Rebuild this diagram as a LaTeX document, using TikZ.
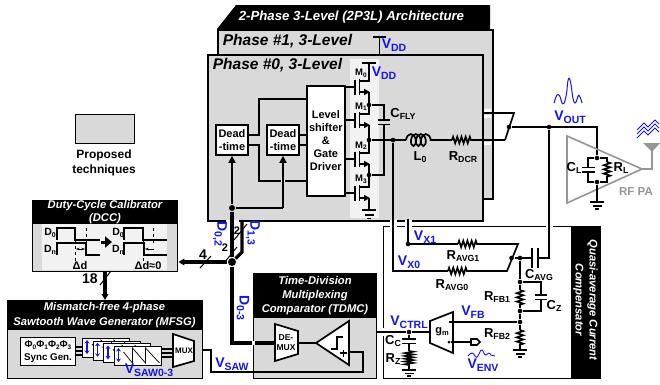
\documentclass[tikz,border=0pt]{standalone}
\usepackage{fontspec}
\setmainfont{Liberation Sans}
\usetikzlibrary{decorations.pathmorphing,arrows.meta}
\definecolor{vblue}{RGB}{20,20,235}
\definecolor{boxgray}{RGB}{217,217,217}
\definecolor{panel}{RGB}{242,242,242}
\definecolor{pagray}{RGB}{150,150,150}
\newcommand{\fs}[1]{\fontsize{#1}{#1}\selectfont}
\newcommand{\vsub}[2]{\fs{14}#1\raisebox{-.35ex}{\fs{10.5}#2}}
\newcommand{\csub}[2]{\fs{13}#1\raisebox{-.35ex}{\fs{8.8}#2}}
\begin{document}
\begin{tikzpicture}[x=1pt,y=-1pt,line width=1.7pt,line join=miter,
  every node/.style={font=\bfseries\fs{11},inner sep=0pt,align=center},
  dot/.style={circle,fill=black,inner sep=0,minimum size=4.6pt},
  bigdot/.style={circle,fill=black,inner sep=0,minimum size=8pt},
  graybox/.style={draw,fill=boxgray},
  wbox/.style={draw,fill=white},
  vlab/.style={text=vblue},
  head/.style={text=white,font=\bfseries\itshape\fs{11.2}},
  res/.style={decorate,decoration={zigzag,segment length=4.2pt,amplitude=3.2pt}},
  bus/.style={line width=3.2pt},
  tip/.style={-{Triangle[length=7pt,width=7pt]}},
  bustip/.style={-{Triangle[length=6pt,width=6.5pt]}},
  halo/.style={white,line width=1.8pt}]
\useasboundingbox (0,0) rectangle (660,384);
% phase boxes
\fill (217,29) -- (236,5) -- (490,5) -- (490,29) -- cycle;
\node[text=white,font=\bfseries\itshape\fs{13.2},anchor=west] (title) at (238,17) {2-Phase 3-Level (2P3L) Architecture};
\node[graybox,anchor=north west,minimum width=275,minimum height=169] (ph1) at (217,29) {};
\node[font=\bfseries\itshape\fs{15.5},anchor=west] (ph1t) at (222,41) {Phase \#1, 3-Level};
\node[graybox,anchor=north west,minimum width=275,minimum height=166] (ph0) at (207,54) {};
\fill[panel] (350,59) rectangle (379,218);
\node[font=\bfseries\itshape\fs{15.5},anchor=west] (ph0t) at (212,65) {Phase \#0, 3-Level};
% supply of phase 1
\draw (373,37) -- (386,37);
\draw (379.5,37) -- (379.5,54);
\node[vlab] (vdd1) at (394,45) {\vsub{V}{DD}};
% proposed
\node[graybox,line width=1pt,anchor=north west,minimum width=59,minimum height=29] (legend) at (75,114) {};
\node[font=\bfseries\fs{12}] (legendt) at (104,163) {Proposed\\[3pt]techniques};
% driver
\node[wbox,anchor=north west,minimum width=38,minimum height=110] (ls) at (306,85) {Level\\[2pt]shifter\\[2pt]\&\\[2pt]Gate\\[2pt]Driver};
\foreach \name/\x in {dt1/232,dt2/283}{
 \node[wbox,minimum width=32,minimum height=30] (\name) at (\x,140) {Dead\\[2pt]-time};}
\draw (ls.west |- 0,99) -- (259,99) -- (259,135) -- (dt1.east |- 0,135);
\draw (dt1.east |- 0,145) -- (259,145) -- (259,181) -- (ls.west |- 0,181);
\draw[halo] (281,181) -- (285,181);
\foreach \y in {135,145}{\draw (dt2.east |- 0,\y) -- (ls.west |- 0,\y);}
% switches
\foreach \name/\y/\ytop/\ybot/\idx in {m0/87/63/105/0,m1/120/105/140/1,m2/159/140/175/2,m3/193/175/210/3}{
 \draw (ls.east |- 0,\y) -- (355,\y);
 \draw (355,\y-7.5) -- (355,\y+7.5);
 \draw (359.5,\y-8) -- (359.5,\y+8);
 \draw (359.5,\y-6) -- (369,\y-6) -- (369,\ytop);
 \draw (369,\y+5) -- (369,\ybot);
 \draw[-{Triangle[length=6pt,width=6pt]}] (359.5,\y+5) -- (370,\y+5);
 \node[font=\bfseries\fs{9.5}] (\name) at (361,\y-13.5) {M\raisebox{-.3ex}{\fs{6.5}\idx}};}
\draw (362,63) -- (376,63);
\node[vlab] (vdd0) at (384,73) {\vsub{V}{DD}};
\foreach \w/\y in {7/210,4.5/215,2/218.5}{\draw (369-\w,\y) -- (369+\w,\y);}
\node[dot] (n1) at (369,105) {};
\node[dot] (n2) at (369,140) {};
\node[dot] (n3) at (369,175) {};
\coordinate (capa) at (384,120);
\coordinate (capb) at (384,124.5);
\draw (n1) -- (384,105) -- (capa);
\draw (capb) -- (384,175) -- (n3);
\draw (378,120) -- (390,120) (378,124.5) -- (390,124.5);
\node (cfly) at (403,114) {\csub{C}{FLY}};
% output filter
\node[dot] (lx) at (393,140) {};
\draw (n2) -- (406,140);
\draw[decorate,decoration={coil,segment length=5pt,amplitude=6pt,aspect=.6}] (406,140) -- (432,140);
\draw (432,140) -- (452,140);
\draw[res] (452,140) -- (472,140);
\draw (472,140) -- (505,140);
\draw (482,113) -- (514,113) -- (505,140);
\foreach \y in {113,140}{\draw[white,line width=3.5pt] (484,\y+3.5) -- (491,\y+3.5);}
\draw[halo,line width=3pt] (483.5,110.5) -- (491,110.5);
\node (l0) at (420,157) {\csub{L}{0}};
\node (rdcr) at (463,157) {\csub{R}{DCR}};
\node[dot] (swo) at (509,127) {};
\node[dot] (vo) at (549,127) {};
\node[dot] (cltop) at (597,158) {};
\node[dot] (clbot) at (597,182) {};
\draw (swo) -- (597,127) -- (cltop);
% rf pa
\draw[pagray,line width=1.6pt] (567,136) -- (642,169) -- (567,203) -- cycle;
\draw[pagray,line width=1.6pt] (642,169) -- (652,169) -- (652,147);
\fill[pagray] (643,143) -- (660,143) -- (652,152) -- cycle;
\node[text=pagray,font=\bfseries\fs{11.5}] (rfpa) at (636,192) {RF PA};
\draw[vblue,line width=.9pt] (637,138) -- (644,131) -- (648,135) -- (655,128) -- (659,132) (637,134) -- (644,127) -- (648,131) -- (655,124) -- (659,128) (637,130) -- (644,123) -- (648,127) -- (655,120) -- (659,124);
\draw (cltop) -- (588,158) -- (588,167.5) (588,172) -- (588,182) -- (clbot);
\draw (582,167.5) -- (595,167.5) (582,172) -- (595,172);
\draw (cltop) -- (607,158) -- (607,162);
\draw[res] (607,162) -- (607,178);
\draw (607,178) -- (607,182) -- (clbot);
\draw (clbot) -- (597,202);
\foreach \w/\y in {7/202,4.5/206,2/209}{\draw (597-\w,\y) -- (597+\w,\y);}
\node (cl) at (574,168) {\csub{C}{L}};
\node (rl) at (621,168) {\csub{R}{L}};
\node[vlab] (vout) at (570,117) {\vsub{V}{OUT}};
\draw[vblue,line width=1pt] (554,103) .. controls (557,92) and (559,92) .. (561,100) .. controls (563,108) and (565,104) .. (567,90) .. controls (568,74) and (570,74) .. (572,92) .. controls (574,108) and (576,104) .. (578,96) .. controls (579,93) and (581,99) .. (582,103);
% compensator
\node[draw,line width=1.4pt,anchor=north west,minimum width=217,minimum height=152] (comp) at (383,226) {};
\fill (571,226) rectangle (600,378);
\node[head,rotate=-90] (compt) at (585.5,300) {Quasi-average Current\\[3pt]Compensator};
\foreach \x in {393,408,549}{\fill[white] (\x-3.5,219.8) rectangle (\x+3.5,228);}
\fill[white] (376,328) rectangle (386,336);
\node[dot] (x1) at (408,244) {};
\draw (lx) -- (393,271) -- (448,271);
\draw[res] (448,271) -- (468,271);
\draw (468,271) -- (507,271) -- (518,244) -- (478,244);
\draw[res] (458,244) -- (478,244);
\draw (408,219) -- (408,244) -- (458,244);
\node[dot] (sw2) at (511.5,258) {};
\node[dot] (ct) at (520,258) {};
\draw (sw2) -- (532,258);
\draw (532,248) -- (532,268) (538,248) -- (538,268);
\draw (538,258) -- (549,258) -- (vo);
\node[vlab] (vx1) at (425,237) {\vsub{V}{X1}};
\node[vlab] (vx0) at (409,262) {\vsub{V}{X0}};
\node (ravg1) at (463,256) {\csub{R}{AVG1}};
\node (ravg0) at (452,285) {\csub{R}{AVG0}};
\node (cavg) at (539,275) {\csub{C}{AVG}};
\node[dot] (fb1) at (520,282) {};
\node[dot] (fb2) at (520,311) {};
\node[dot] (fb3) at (520,322) {};
\draw (ct) -- (fb1) -- (520,290);
\draw[res] (520,290) -- (520,305);
\draw (520,305) -- (fb2) -- (fb3) -- (520,330);
\draw[res] (520,330) -- (520,345);
\draw (520,345) -- (520,350);
\foreach \w/\y in {7/350,4.5/354,2/357}{\draw (520-\w,\y) -- (520+\w,\y);}
\draw (fb1) -- (541,282) -- (541,295) (541,299.5) -- (541,311) -- (fb2);
\draw (535,295) -- (547,295) (535,299.5) -- (547,299.5);
\node (rfb1) at (497,297) {\csub{R}{FB1}};
\node (rfb2) at (497,334) {\csub{R}{FB2}};
\node (cz) at (554,306) {\csub{C}{Z}};
% gm stage
\draw[fill=white] (430,321) -- (453,312) -- (453,353) -- (430,343) -- cycle;
\node (gm) at (442,332) {g\raisebox{-.3ex}{\fs{7.5}m}};
\node[dot,minimum size=3pt] (gmp) at (449,342) {};
\coordinate (gmn) at (449,322);
\draw (gmn) -- (fb3);
\draw (gmp) -- (471,342);
\draw (471,339) -- (477,339) -- (480,342) -- (477,345) -- (471,345) -- cycle;
\node[vlab] (vfb) at (473,312) {\vsub{V}{FB}};
\node[vlab] (venv) at (483,365) {\vsub{V}{ENV}};
\draw[vblue,line width=.9pt] (468,356) .. controls (471,352) and (473,352) .. (475,356) .. controls (477,360) and (478,355) .. (481,350) .. controls (483,348) and (484,356) .. (486,355) .. controls (488,353) and (489,352) .. (491,355) -- (495,356);
\node[dot] (vc) at (409,332) {};
\draw (430,332) -- (vc) -- (342,332);
\draw (vc) -- (409,339);
\draw (402,339) -- (416,339) (402,343.5) -- (416,343.5);
\draw (409,343.5) -- (409,351);
\draw[res,decoration={segment length=2.8pt,amplitude=4pt}] (409,351) -- (409,366);
\draw (409,366) -- (409,370);
\foreach \w/\y in {7/370,4.5/373.5,2/376}{\draw (409-\w,\y) -- (409+\w,\y);}
\node[vlab] (vctrl) at (409,322) {\vsub{V}{CTRL}};
\node (cc) at (393,341) {\csub{C}{C}};
\node (rz) at (393,359) {\csub{R}{Z}};
% tdmc
\node[graybox,anchor=north west,minimum width=123,minimum height=105,line width=1pt] (tdmc) at (253,273) {};
\fill (253,273) rectangle (376,318);
\node[head] (tdmct) at (315,295.5) {Time-Division\\[3pt]Multiplexing\\[3pt]Comparator (TDMC)};
\draw[fill=white] (275,324) -- (298,331) -- (298,354) -- (275,361) -- cycle;
\node[font=\bfseries\fs{8.5}] (demux) at (286,343) {DE-\\[1.5pt]MUX};
\draw[fill=white] (316,343) -- (349,321) -- (349,365) -- cycle;
\draw (298,343) -- (316,343);
\draw[line width=1.3pt] (331,349) -- (337,349) -- (337,337) -- (343,337);
\draw (340,353) -- (347,353) (343.5,349.5) -- (343.5,356.5);
\draw (349,352) -- (363,352) -- (363,372) -- (211,372) -- (211,350) -- (193,350);
\node[vlab] (vsaw) at (232,364) {\vsub{V}{SAW}};
% digital bus
\node[bigdot] (jn) at (232,262) {};
\node[dot,minimum size=6pt] (dn) at (232,208) {};
\draw[tip] (dn) -- (dt1.south);
\draw[tip] (283,208) -- (dt2.south);
\draw (dn) -- (283,208);
\fill[white] (226,219.8) rectangle (239,224);
\draw[bus] (dn) -- (jn);
\draw[bus] (242,220) -- (242,252) -- (jn);
\draw[line width=1pt] (234,240) -- (247,224);
\draw[line width=1pt] (224,263) -- (237,247);
\node[font=\bfseries\fs{11}] (two1) at (237,231) {2};
\node[font=\bfseries\fs{11}] (two2) at (225,248) {2};
\node[vlab,rotate=-90] (d02) at (220,234) {\vsub{D}{0,2}};
\node[vlab,rotate=-90] (d13) at (253,233) {\vsub{D}{1,3}};
\node[vlab,rotate=-90] (d03) at (243,308) {\vsub{D}{0-3}};
% dcc
\node[draw,fill=boxgray,anchor=north west,minimum width=145,minimum height=71,line width=1.4pt] (dcc) at (32,200) {};
\fill[panel] (42,224) rectangle (167,270);
\fill (32,200) rectangle (177,224);
\node[head] (dcct) at (105,212) {Duty-Cycle Calibrator\\[2pt](DCC)};
\draw[line width=1.1pt] (57,240) -- (57,228) -- (75,228) -- (75,240) -- (100,240);
\draw[line width=1.1pt] (57,255) -- (57,243) -- (86,243) -- (86,255) -- (100,255);
\draw[line width=1.1pt] (124,240) -- (124,228) -- (143,228) -- (143,240) -- (167,240);
\draw[line width=1.1pt] (124,255) -- (124,243) -- (144,243) -- (144,255) -- (167,255);
\draw[line width=.9pt,dashed] (75,228) -- (75,262) (86,228) -- (86,243) (143,228) -- (143,262) (153.5,228) -- (153.5,243);
\draw[line width=.8pt,{Stealth[length=3.5pt]}-{Stealth[length=3.5pt]}] (76,249) -- (85,249);
\draw[line width=.8pt,{Stealth[length=3.5pt]}-] (145,249) -- (154,249);
\draw[line width=3pt,-{Triangle[length=7pt,width=11pt]}] (101,242) -- (112,242);
\foreach \name/\x/\y/\txt in {a0/50/233/0,an/50/250/n,b0/118/233/0,bn/118/250/n}{
 \node[font=\bfseries\fs{10.5}] (\name) at (\x,\y) {D\raisebox{-.3ex}{\fs{7}\txt}};}
\node (dd0) at (80,266) {Δd};
\node (dd1) at (148,266) {Δd≈0};
\draw[bus,bustip] (jn) -- (dcc.east |- jn);
\draw[line width=1pt] (200,268) -- (211,256);
\node[font=\bfseries\fs{14}] (four) at (203,255) {4};
% mfsg
\node[graybox,anchor=north west,minimum width=195,minimum height=78,line width=1pt] (mfsg) at (7,300) {};
\fill (7,300) rectangle (202,330);
\node[head] (mfsgt) at (104.5,315) {Mismatch-free 4-phase\\[3pt]Sawtooth Wave Generator (MFSG)};
\draw[line width=1pt] (100,285) -- (111,271);
\node[font=\bfseries\fs{14}] (n18) at (90,279) {18};
\draw[bus,bustip] (105,271) -- (105,300);
\node[wbox,line width=1pt,anchor=north west,minimum width=55,minimum height=28,font=\bfseries\fs{9.8}] (sync) at (20,337) {Φ\raisebox{-.3ex}{\fs{6.5}0}Φ\raisebox{-.3ex}{\fs{6.5}1}Φ\raisebox{-.3ex}{\fs{6.5}2}Φ\raisebox{-.3ex}{\fs{6.5}3}\\[3pt]Sync Gen.};
\foreach \y in {347,351,355}{\draw[line width=1.3pt] (75,\y) -- (82,\y) (160,\y+2) -- (173,\y+2);}
\foreach \name/\x/\y in {c0/82/338,c1/92.5/340.7,c2/103/343.4,c3/113.5/346}{
 \node[wbox,line width=.9pt,anchor=north west,minimum width=47,minimum height=19] (\name) at (\x,\y) {};
 \draw[vblue,line width=1.3pt,{Stealth[length=3.5pt,width=5pt]}-{Stealth[length=3.5pt,width=5pt]}] (\x+5,\y+2) -- (\x+5,\y+16);
 \draw[line width=.7pt] (\x+10,\y+6) -- (\x+19,\y+17) -- (\x+19,\y+2) -- (\x+32,\y+17) -- (\x+32,\y+2) -- (\x+46,\y+17);}
\node[vlab,anchor=west] (vsaw03) at (124,370) {\vsub{V}{SAW0-3}};
\draw[fill=white] (173,334) -- (194,341) -- (194,361) -- (173,367) -- cycle;
\node[font=\bfseries\fs{8}] (mux) at (184,351) {MUX};
\draw[bus] (jn) -- (232,343) -- (275,343);
\fill[white] (252,341) rectangle (255,345);
\end{tikzpicture}
\end{document}
